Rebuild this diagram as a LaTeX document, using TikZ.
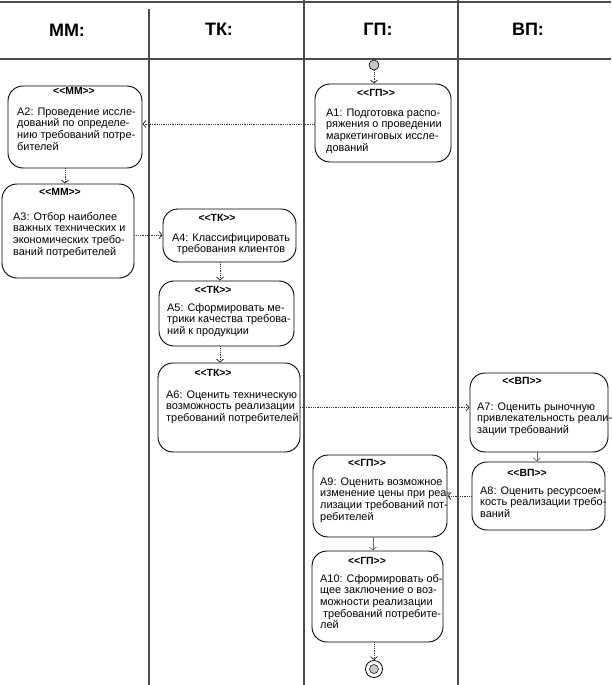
\documentclass[tikz,border=0pt]{standalone}
\usepackage{fontspec}
\setmainfont{Liberation Sans}
\usetikzlibrary{arrows.meta}
\newcommand\mystrut{\rule{0pt}{9pt}}
\newcommand\stq[1]{<\kern0pt<#1>\kern0pt>}
\begin{document}
\begin{tikzpicture}[x=1pt,y=-1pt,
  lane/.style={draw=black!70, line width=1.4pt},
  act/.style={draw=black, line width=0.9pt, rounded corners=15pt, inner sep=0pt},
  stereo/.style={font=\fontsize{10.4}{12}\selectfont\bfseries, inner sep=0pt},
  body/.style={font=\fontsize{10.9}{11.6}\selectfont, align=left, inner sep=0pt, anchor=north west},
  hdr/.style={font=\fontsize{18}{20}\selectfont\bfseries, inner sep=0pt},
  flow/.style={densely dotted, line width=0.8pt, draw=black!80, -{Straight Barb[length=3pt,width=7pt]}},
  sflow/.style={solid, line width=0.7pt, draw=black!60, -{Straight Barb[length=3pt,width=7pt]}},
  pt/.style={circle, draw=black, inner sep=0pt}
]
\useasboundingbox (0,0) rectangle (611,685);
% lanes
\draw[lane] (0,2) -- (611,2);
\draw[lane] (0,59) -- (611,59);
\draw[lane] (149,9) -- (149,685);
\draw[lane] (304,0) -- (304,685);
\draw[lane] (458,0) -- (458,685);
\node[hdr] (h1) at (67,30) {ММ:};
\node[hdr] (h2) at (219,29) {ТК:};
\node[hdr] (h3) at (378,29) {ГП:};
\node[hdr] (h4) at (528,29) {ВП:};

% start / end
\node[pt, fill=black!22, minimum size=10pt, line width=0.6pt] (start) at (374,65) {};
\node[pt, minimum size=17pt, line width=0.8pt] (end) at (374,669) {};
\node[pt, fill=black!22, minimum size=9pt, line width=0.5pt] (endin) at (374,669) {};

% activity boxes
\node[act, minimum width=136pt, minimum height=78pt] (a1) at (383,123) {};
\node[act, minimum width=134pt, minimum height=82pt] (a2) at (75,127) {};
\node[act, minimum width=132pt, minimum height=94pt] (a3) at (68,231) {};
\node[act, minimum width=133pt, minimum height=53pt] (a4) at (229.5,235.5) {};
\node[act, minimum width=135pt, minimum height=65pt] (a5) at (226.5,313.5) {};
\node[act, minimum width=142pt, minimum height=89pt] (a6) at (229,407.5) {};
\node[act, minimum width=138pt, minimum height=79pt] (a7) at (539,412.5) {};
\node[act, minimum width=133pt, minimum height=68pt] (a8) at (538.5,496) {};
\node[act, minimum width=134pt, minimum height=82pt] (a9) at (380,496) {};
\node[act, minimum width=131pt, minimum height=91pt] (a10) at (377.5,596.5) {};

% stereotypes
\node[stereo] (s1) at (376,93) {\stq{ГП}};
\node[stereo] (s2) at (74,91) {\stq{ММ}};
\node[stereo] (s3) at (60,192) {\stq{ММ}};
\node[stereo] (s4) at (217,218) {\stq{ТК}};
\node[stereo] (s5) at (213,290) {\stq{ТК}};
\node[stereo] (s6) at (213,373) {\stq{ТК}};
\node[stereo] (s7) at (522,381) {\stq{ВП}};
\node[stereo] (s8) at (527,473) {\stq{ВП}};
\node[stereo] (s9) at (367,463) {\stq{ГП}};
\node[stereo] (s10) at (367,561) {\stq{ГП}};

% texts
\node[body] (t1) at (326,107) {\mystrut А1: Подготовка распо-\\ряжения о проведении\\маркетинговых иссле-\\дований};
\node[body] (t2) at (17,106) {\mystrut А2: Проведение иссле-\\дований по определе-\\нию требований потре-\\бителей};
\node[body] (t3) at (13,211) {\mystrut А3: Отбор наиболее\\важных технических и\\экономических требо-\\ваний потребителей};
\node[body, align=center, anchor=north] (t4) at (231,232) {\mystrut А4: Классифицировать\\требования клиентов};
\node[body] (t5) at (167,302) {\mystrut А5: Сформировать ме-\\трики качества требова-\\ний к продукции};
\node[body] (t6) at (166,389) {\mystrut А6: Оценить техническую\\возможность реализации\\требований потребителей};
\node[body] (t7) at (477,401) {\mystrut А7: Оценить рыночную\\привлекательность реали-\\зации требований};
\node[body] (t8) at (480,485) {\mystrut А8: Оценить ресурсоем-\\кость реализации требо-\\ваний};
\node[body] (t9) at (320,476) {\mystrut А9: Оценить возможное\\изменение цены при реа-\\лизации требований пот-\\ребителей};
\node[body] (t10) at (320,573) {\mystrut А10: Сформировать об-\\щее заключение о воз-\\можности реализации\\\ требований потребите-\\лей};

% connectors
\draw[flow] (start) -- (start |- a1.north);
\coordinate (p12) at ([yshift=-1pt]a1.west);
\draw[flow] (p12) -- (p12 -| a2.east);
\coordinate (p23) at ([xshift=-10pt]a2.south);
\draw[flow] (p23) -- (p23 |- a3.north);
\coordinate (p34) at ([yshift=-4pt]a3.east);
\draw[flow] (p34) -- (p34 -| a4.west);
\coordinate (p45) at ([xshift=-9.5pt]a4.south);
\draw[flow] (p45) -- (p45 |- a5.north);
\coordinate (p56) at ([xshift=-6.5pt]a5.south);
\draw[flow] (p56) -- (p56 |- a6.north);
\draw[flow] (a6.east) -- (a6.east -| a7.west);
\coordinate (p78) at ([xshift=-2pt]a7.south);
\draw[sflow] (p78) -- (p78 |- a8.north);
\draw[flow] (a8.west) -- (a8.west -| a9.east);
\coordinate (p910) at ([xshift=-7pt]a9.south);
\draw[sflow] (p910) -- (p910 |- a10.north);
\draw[flow] (a10.south -| end) -- (end);
\end{tikzpicture}
\end{document}
